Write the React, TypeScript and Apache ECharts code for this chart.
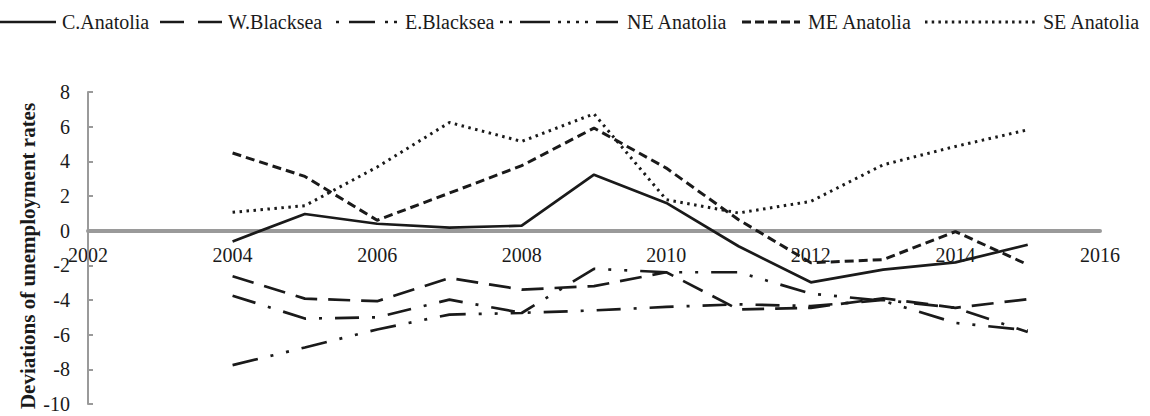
import React, { useEffect, useRef } from "react";
import * as echarts from "echarts";

const years = [2004, 2005, 2006, 2007, 2008, 2009, 2010, 2011, 2012, 2013, 2014, 2015];
const cAnatolia = [-0.62, 0.96, 0.4, 0.17, 0.29, 3.23, 1.6, -0.9, -2.98, -2.25, -1.83, -0.81];
const wBlacksea = [-2.63, -3.92, -4.07, -2.73, -3.4, -3.2, -2.4, -4.55, -4.45, -3.9, -4.45, -3.95];
const eBlacksea = [-3.75, -5.07, -5.0, -3.98, -4.74, -4.6, -4.4, -4.25, -4.35, -4.0, -4.45, -5.85];
const neAnatolia = [-7.76, -6.74, -5.7, -4.84, -4.75, -2.2, -2.4, -2.4, -3.63, -4.05, -5.32, -5.75];
const meAnatolia = [4.48, 3.13, 0.6, 2.17, 3.75, 5.92, 3.61, 0.63, -1.85, -1.67, -0.05, -1.96];
const seAnatolia = [1.06, 1.44, 3.67, 6.24, 5.15, 6.74, 1.79, 1.02, 1.69, 3.8, 4.86, 5.82];

const seriesNames = ["C.Anatolia", "W.Blacksea", "E.Blacksea", "NE Anatolia", "ME Anatolia", "SE Anatolia"];
const seriesValues = [cAnatolia, wBlacksea, eBlacksea, neAnatolia, meAnatolia, seAnatolia];

const xTickLabels = ["2002", "2004", "2006", "2008", "2010", "2012", "2014", "2016"];
const yAxisTitle = "Deviations of unemployment rates";
const xMin = 2002;
const xMax = 2016;
const xStep = 2;
const yMin = -10;
const yMax = 8;
const yStep = 2;

const FONT = "Liberation Serif";
const INK = "#1a1a1a";

const lineStyles: any[] = [
  { width: 2.7, type: "solid", cap: "butt" },
  { width: 2.7, type: [22, 11], cap: "butt" },
  { width: 2.7, type: [24, 13, 3, 13], cap: "butt" },
  { width: 2.7, type: [26, 13, 3, 13, 3, 13], cap: "butt" },
  { width: 3, type: [9, 5], cap: "butt" },
  { width: 3, type: [2.5, 4.5], cap: "butt" },
];

// legend layout: [line start, line end, text x]
const legendLayout = [
  [0, 56, 62],
  [160, 222, 228],
  [336, 400, 405],
  [500, 618, 627],
  [742, 800, 808],
  [925, 1036, 1043],
];
const legendDash: any[] = [
  null,
  [24, 14],
  [3, 10, 26, 10, 3, 6],
  [3, 6, 3, 8, 30, 8, 3, 6, 3, 6],
  [9, 4],
  [2.5, 4.2],
];

export default function App() {
  const ref = useRef<HTMLDivElement>(null);
  useEffect(() => {
    if (!ref.current) return;
    const chart = echarts.init(ref.current, null, { renderer: "svg" });
    const series = seriesNames.map((name, i) => ({
      name,
      type: "line",
      data: years.map((y, j) => [y, seriesValues[i][j]]),
      symbol: "none",
      showSymbol: false,
      lineStyle: { color: INK, ...lineStyles[i] },
      itemStyle: { color: INK },
      z: 3,
    }));
    chart.setOption({
      animation: false,
      backgroundColor: "#fff",
      textStyle: { fontFamily: FONT },
      grid: { left: 88, right: 50, top: 92, bottom: 12, containLabel: false, outerBoundsMode: "none" },
      xAxis: {
        type: "value",
        min: xMin,
        max: xMax,
        interval: xStep,
        axisLine: { onZero: true, lineStyle: { color: "#9a9a9a", width: 4 } },
        axisTick: { show: false },
        splitLine: { show: false },
        axisLabel: { show: false },
      },
      yAxis: {
        type: "value",
        min: yMin,
        max: yMax,
        interval: yStep,
        axisLine: { show: true, onZero: false, lineStyle: { color: "#9a9a9a", width: 2 } },
        axisTick: { show: true, inside: true, length: 5, lineStyle: { color: "#9a9a9a", width: 2 } },
        splitLine: { show: false },
        axisLabel: { fontFamily: FONT, fontSize: 20, color: INK, margin: 18 },
      },
      series,
    });

    const graphics: any[] = [];
    // legend
    seriesNames.forEach((name, i) => {
      const [x1, x2, tx] = legendLayout[i];
      const ls = lineStyles[i];
      graphics.push({
        type: "line",
        shape: { x1, y1: 22, x2, y2: 22 },
        style: { stroke: INK, lineWidth: ls.width, lineDash: legendDash[i] || undefined },
      });
      graphics.push({
        type: "text",
        x: tx,
        y: 22,
        style: { text: name, fill: INK, fontFamily: FONT, fontSize: 20, verticalAlign: "middle", align: "left" },
      });
    });
    // y-axis title
    graphics.push({
      type: "text",
      x: 28,
      y: 256,
      rotation: Math.PI / 2,
      style: {
        text: yAxisTitle,
        fill: INK,
        fontFamily: FONT,
        fontSize: 21,
        fontWeight: "bold",
        align: "center",
        verticalAlign: "middle",
      },
    });
    // x tick labels at the zero line
    xTickLabels.forEach((lab) => {
      const p = chart.convertToPixel({ gridIndex: 0 }, [Number(lab), 0]) as number[];
      graphics.push({
        type: "text",
        x: p[0],
        y: p[1] + 14,
        style: { text: lab, fill: INK, fontFamily: FONT, fontSize: 20, align: "center", verticalAlign: "top" },
      });
    });
    chart.setOption({ graphic: graphics });
    return () => chart.dispose();
  }, []);
  return (
    <div
      ref={ref}
      style={{ position: "fixed", left: 0, top: 0, width: 1150, height: 416, background: "#fff" }}
    />
  );
}
